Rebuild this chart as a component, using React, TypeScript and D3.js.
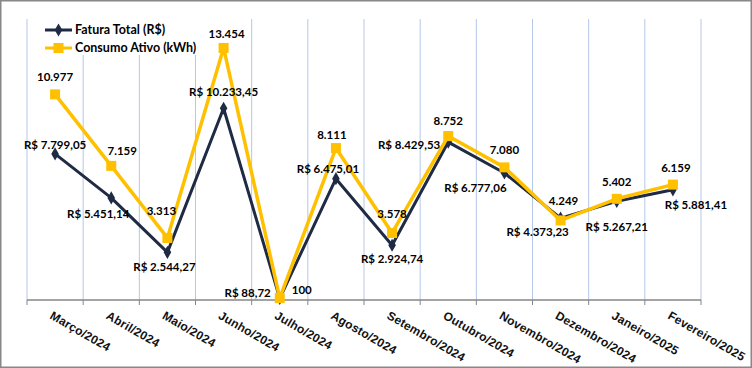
import React from 'react';
import * as d3 from 'd3';

const months = [
  'Março/2024', 'Abril/2024', 'Maio/2024', 'Junho/2024', 'Julho/2024', 'Agosto/2024',
  'Setembro/2024', 'Outubro/2024', 'Novembro/2024', 'Dezembro/2024', 'Janeiro/2025', 'Fevereiro/2025',
];
const fatura = [7799.05, 5451.14, 2544.27, 10233.45, 88.72, 6475.01, 2924.74, 8429.53, 6777.06, 4373.23, 5267.21, 5881.41];
const consumo = [10977, 7159, 3313, 13454, 100, 8111, 3578, 8752, 7080, 4249, 5402, 6159];

// label placement (dx, dy, anchor) relative to the point, as Excel placed them
const faturaLabelPos: [number, number, string][] = [
  [0, -9, 'middle'], [-13, 16, 'middle'], [-3, 15, 'middle'], [0, -16, 'middle'],
  [-9, -5, 'end'], [-8, -10, 'middle'], [0, 14, 'middle'], [-8, 3, 'end'],
  [-29, 15, 'middle'], [-23, 14, 'middle'], [0, 26, 'middle'], [23, 15, 'middle'],
];
const consumoLabelPos: [number, number, string][] = [
  [0, -17, 'middle'], [11, -15, 'middle'], [-6, -27, 'middle'], [3, -14, 'middle'],
  [12, -8, 'start'], [-4, -13, 'middle'], [0, -19, 'middle'], [0, -15, 'middle'],
  [0, -17, 'middle'], [3, -19, 'middle'], [0, -17, 'middle'], [3, -17, 'middle'],
];

const W = 752, H = 368;
const margin = { top: 19, right: 51, bottom: 68, left: 27 };
const NAVY = '#1f2b44';
const GOLD = '#ffc000';
const labelFont = 'Lato, Calibri, sans-serif';

const brl = (v: number) =>
  'R$ ' + v.toLocaleString('pt-BR', { minimumFractionDigits: 2, maximumFractionDigits: 2 });
const kwh = (v: number) => v.toLocaleString('pt-BR');

export default function App() {
  const x = d3.scaleBand().domain(months).range([margin.left, W - margin.right]);
  const y = d3.scaleLinear().domain([0, 15000]).range([H - margin.bottom, margin.top]);
  const cx = (m: string) => (x(m) as number) + x.bandwidth() / 2;
  const bounds = months.map((m) => x(m) as number).concat([W - margin.right]);

  const line = d3.line<number>().x((d, i) => cx(months[i])).y((d) => y(d));
  const base = H - margin.bottom;

  return (
    <div style={{ position: 'fixed', left: 0, top: 0 }}>
      <svg width={W} height={H} style={{ display: 'block', background: '#fff' }}>
        <rect x={0.75} y={0.75} width={W - 1.5} height={H - 1.5} fill="#fff" stroke="#888" strokeWidth={1.5} />

        {/* vertical gridlines at category boundaries */}
        {bounds.map((b, i) => (
          <line key={'g' + i} x1={b} x2={b} y1={margin.top} y2={base} stroke="#b4c7e7" strokeWidth={1} />
        ))}

        {/* legend box hides the gridlines behind it */}
        <rect x={31} y={margin.top} width={220} height={36} fill="#fff" />
        <g fontFamily={labelFont} fontWeight="bold" fontSize={12.5} fill="#000">
          <line x1={45} x2={72} y1={30} y2={30} stroke={NAVY} strokeWidth={3} />
          <path d={d3.symbol(d3.symbolDiamond, 50)() as string} transform="translate(58.5,30)" fill={NAVY} />
          <text x={75} y={30} dy="0.35em">Fatura Total (R$)</text>
          <line x1={45} x2={72} y1={48} y2={48} stroke={GOLD} strokeWidth={3} />
          <rect x={53.5} y={43} width={10} height={10} fill={GOLD} />
          <text x={75} y={48} dy="0.35em">Consumo Ativo (kWh)</text>
        </g>

        {/* axis */}
        <line x1={margin.left} x2={W - margin.right} y1={base} y2={base} stroke="#868686" strokeWidth={1.5} />
        {bounds.map((b, i) => (
          <line key={'t' + i} x1={b} x2={b} y1={base} y2={base + 5} stroke="#868686" strokeWidth={1} />
        ))}
        {months.map((m) => (
          <text
            key={m}
            transform={`translate(${cx(m) - 6},${base + 18}) rotate(30)`}
            fontFamily="'Liberation Sans', Arial, sans-serif"
            fontWeight="bold"
            fontSize={12}
            letterSpacing={0.2}
            fill="#111"
          >
            {m}
          </text>
        ))}

        {/* series */}
        <path d={line(fatura) as string} fill="none" stroke={NAVY} strokeWidth={3} strokeLinejoin="round" />
        {fatura.map((v, i) => (
          <path
            key={'fd' + i}
            d={d3.symbol(d3.symbolDiamond, 50)() as string}
            transform={`translate(${cx(months[i])},${y(v)})`}
            fill={NAVY}
          />
        ))}
        <path d={line(consumo) as string} fill="none" stroke={GOLD} strokeWidth={3.5} strokeLinejoin="round" />
        {consumo.map((v, i) => (
          <rect key={'cs' + i} x={cx(months[i]) - 5} y={y(v) - 5} width={10} height={10} fill={GOLD} />
        ))}

        {/* data labels */}
        <g fontFamily={labelFont} fontWeight="bold" fontSize={11.5} fill="#000">
          {fatura.map((v, i) => (
            <text
              key={'fl' + i}
              x={cx(months[i]) + faturaLabelPos[i][0]}
              y={y(v) + faturaLabelPos[i][1]}
              dy="0.35em"
              textAnchor={faturaLabelPos[i][2] as any}
            >
              {brl(v)}
            </text>
          ))}
          {consumo.map((v, i) => (
            <text
              key={'cl' + i}
              x={cx(months[i]) + consumoLabelPos[i][0]}
              y={y(v) + consumoLabelPos[i][1]}
              dy="0.35em"
              textAnchor={consumoLabelPos[i][2] as any}
            >
              {kwh(v)}
            </text>
          ))}
        </g>
      </svg>
    </div>
  );
}
